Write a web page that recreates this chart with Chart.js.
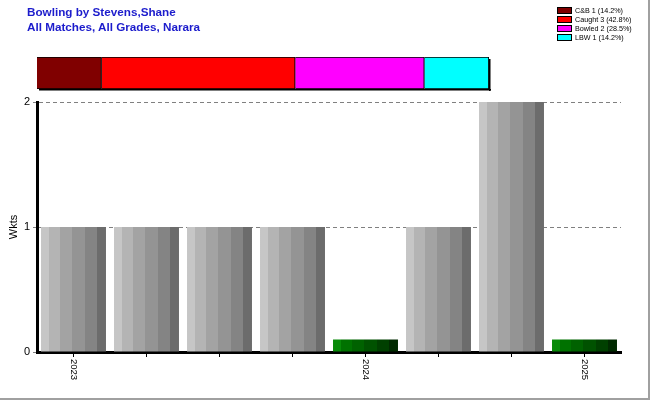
<!DOCTYPE html>
<html>
<head>
<meta charset="utf-8">
<script src="https://cdn.jsdelivr.net/npm/chart.js@4/dist/chart.umd.min.js"></script>
<style>
  html, body { margin: 0; padding: 0; background: #fff; }
  #frame { position: relative; width: 650px; height: 400px; box-sizing: border-box;
           border-right: 2px solid #a0a0a0; border-bottom: 2px solid #a0a0a0; overflow: hidden; }
  #main { position: absolute; left: 0; top: 0; }
  #dismissWrap { position: absolute; left: 37px; top: 57px; }
  .title { position: absolute; left: 27px; font: bold 11.7px "Liberation Sans", Arial, sans-serif;
           color: #1c1ccc; line-height: 15px; white-space: nowrap; }
  #legend { position: absolute; left: 557px; top: 6px; font: 7.2px "Liberation Sans", Arial, sans-serif; color: #000; }
  .lrow { height: 9px; line-height: 9px; white-space: nowrap; display: flex; align-items: center; }
  .lbox { width: 13px; height: 5px; border: 1px solid #000; margin-right: 3px; box-sizing: content-box; }
</style>
</head>
<body>
<div id="frame">
  <canvas id="main" width="650" height="400"></canvas>
  <div id="dismissWrap"><canvas id="dismiss" width="455" height="35"></canvas></div>
  <div class="title" style="top:4px">Bowling by Stevens,Shane</div>
  <div class="title" style="top:19px">All Matches, All Grades, Narara</div>
  <div id="legend"></div>
</div>
<script>
// ---- data ----
const matchLabels = ['2023', '', '', '', '2024', '', '', '2025'];
const wickets = [1, 1, 1, 1, null, 1, 2, null];
const noWicketMarker = [null, null, null, null, 0.1, null, null, 0.1];
const yTicks = [0, 1, 2];
const dismissalTypes = ['C&B', 'Caught', 'Bowled', 'LBW'];
const dismissalCounts = [1, 3, 2, 1];
const dismissalColors = ['#800000', '#ff0000', '#ff00ff', '#00ffff'];
const dismissalPct = ['14.2', '42.8', '28.5', '14.2'];

const grayBands = ['#c6c6c6', '#b4b4b4', '#a3a3a3', '#949494', '#848484', '#6c6c6c'];
const greenBands = ['#088a08', '#007200', '#006200', '#005200', '#004000', '#002a00'];
const bandFrac = [0.12, 0.17, 0.19, 0.2, 0.18, 0.14];
const BAR_FRAC = 0.89;

function bandGradient(ctx, bands, fallback) {
  const chart = ctx.chart;
  const xs = chart.scales && chart.scales.x;
  if (!xs || !chart.chartArea) return fallback;
  const cx = xs.getPixelForValue(ctx.dataIndex);
  const w = xs.width / matchLabels.length * BAR_FRAC;
  const g = chart.ctx.createLinearGradient(cx - w / 2, 0, cx + w / 2, 0);
  let acc = 0;
  bands.forEach((c, i) => {
    g.addColorStop(acc, c);
    acc = Math.min(1, acc + bandFrac[i]);
    g.addColorStop(i === bands.length - 1 ? 1 : acc - 0.0001, c);
  });
  return g;
}

// legend
const legendEl = document.getElementById('legend');
dismissalTypes.forEach((t, i) => {
  const row = document.createElement('div');
  row.className = 'lrow';
  const box = document.createElement('div');
  box.className = 'lbox';
  box.style.background = dismissalColors[i];
  const txt = document.createElement('span');
  txt.textContent = t + ' ' + dismissalCounts[i] + ' (' + dismissalPct[i] + '%)';
  row.appendChild(box); row.appendChild(txt);
  legendEl.appendChild(row);
});

// rotated x labels plugin
const rotatedLabels = {
  id: 'rotatedLabels',
  afterDraw(chart) {
    const xs = chart.scales.x;
    const c = chart.ctx;
    c.save();
    c.font = '9.5px "Liberation Sans", Arial, sans-serif';
    c.fillStyle = '#000';
    c.textAlign = 'left';
    c.textBaseline = 'middle';
    matchLabels.forEach((lab, i) => {
      if (!lab) return;
      const x = xs.getPixelForValue(i);
      c.save();
      c.translate(x, chart.chartArea.bottom + 7);
      c.rotate(Math.PI / 2);
      c.fillText(lab, 0, 0);
      c.restore();
    });
    c.restore();
  }
};

new Chart(document.getElementById('main'), {
  type: 'bar',
  data: {
    labels: matchLabels,
    datasets: [
      { label: 'Wkts', data: wickets,
        backgroundColor: (ctx) => bandGradient(ctx, grayBands, '#999'),
        borderWidth: 0, categoryPercentage: BAR_FRAC, barPercentage: 1 },
      { label: 'None', data: noWicketMarker,
        backgroundColor: (ctx) => bandGradient(ctx, greenBands, '#006000'),
        borderWidth: 0, categoryPercentage: BAR_FRAC, barPercentage: 1 }
    ]
  },
  options: {
    responsive: false,
    animation: false,
    layout: { padding: { left: 0, top: 102, right: 29, bottom: 0 } },
    plugins: { legend: { display: false }, tooltip: { enabled: false } },
    scales: {
      x: {
        stacked: true,
        offset: true,
        grid: { display: true, offset: false, drawOnChartArea: false, drawTicks: true,
                tickLength: 5, color: '#000' },
        border: { display: true, color: '#000', width: 3 },
        ticks: { display: false, autoSkip: false },
        afterFit(s) { s.height = 48; }
      },
      y: {
        stacked: true,
        min: 0, max: 2,
        afterBuildTicks(s) { s.ticks = yTicks.map(v => ({ value: v })); },
        grid: { color: (ctx) => (ctx.tick && ctx.tick.value === 0) ? 'rgba(0,0,0,0)' : '#808080',
                tickColor: '#808080', tickLength: 4, lineWidth: 1 },
        border: { display: true, color: '#000', width: 3, dash: [4, 3] },
        ticks: { font: { size: 11, family: '"Liberation Sans", Arial, sans-serif' }, color: '#000', padding: 3 },
        title: { display: true, text: 'Wkts', color: '#000', padding: { top: 7, bottom: 0 },
                 font: { size: 11, family: '"Liberation Sans", Arial, sans-serif' } },
        afterFit(s) { s.width = 37; }
      }
    }
  },
  plugins: [rotatedLabels]
});

// top stacked dismissal bar
new Chart(document.getElementById('dismiss'), {
  type: 'bar',
  data: {
    labels: ['Dismissals'],
    datasets: dismissalTypes.map((t, i) => ({
      label: t, data: [dismissalCounts[i]], backgroundColor: dismissalColors[i],
      borderColor: '#000', borderWidth: 1.2, barPercentage: 1, categoryPercentage: 1
    }))
  },
  options: {
    indexAxis: 'y',
    responsive: false,
    animation: false,
    layout: { padding: { left: 0, top: 0, right: 3, bottom: 3 } },
    plugins: { legend: { display: false }, tooltip: { enabled: false } },
    scales: {
      x: { stacked: true, display: false, min: 0, max: dismissalCounts.reduce((a, b) => a + b, 0) },
      y: { stacked: true, display: false }
    }
  },
  plugins: [{
    id: 'shadow',
    afterDraw(chart) {
      const a = chart.chartArea, c = chart.ctx;
      c.save(); c.fillStyle = '#000';
      c.fillRect(a.right, a.top + 2, 1.5, a.bottom - a.top);
      c.fillRect(a.left + 2, a.bottom, a.right - a.left, 1.5);
      c.restore();
    }
  }]
});
</script>
</body>
</html>
